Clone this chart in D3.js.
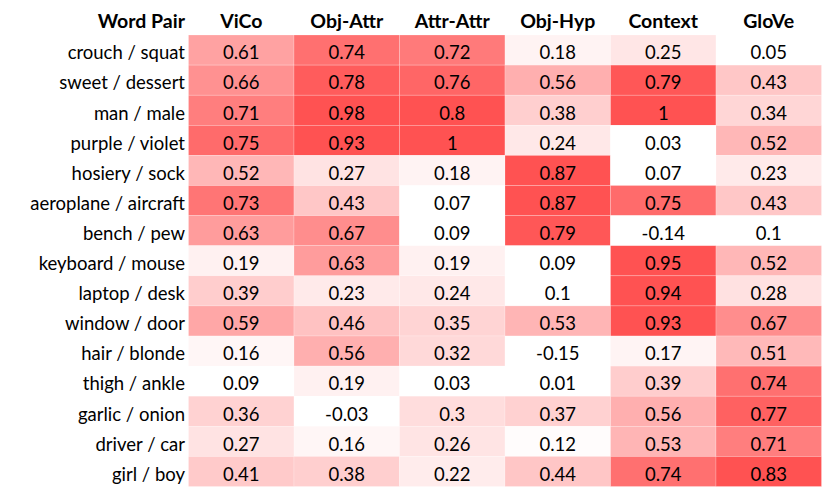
<!DOCTYPE html>
<html><head><meta charset="utf-8">
<script src="https://cdn.jsdelivr.net/npm/d3@7"></script>
<style>
html,body{margin:0;padding:0;background:#fff;}
svg{display:block;font-family:Lato,"Open Sans",sans-serif;}
</style></head>
<body>
<svg id="chart" width="831" height="495"></svg>
<script>
const pairs = ["crouch / squat","sweet / dessert","man / male","purple / violet","hosiery / sock","aeroplane / aircraft","bench / pew","keyboard / mouse","laptop / desk","window / door","hair / blonde","thigh / ankle","garlic / onion","driver / car","girl / boy"];
const columns = ["ViCo","Obj-Attr","Attr-Attr","Obj-Hyp","Context","GloVe"];
const vico     = [0.61,0.66,0.71,0.75,0.52,0.73,0.63,0.19,0.39,0.59,0.16,0.09,0.36,0.27,0.41];
const objAttr  = [0.74,0.78,0.98,0.93,0.27,0.43,0.67,0.63,0.23,0.46,0.56,0.19,-0.03,0.16,0.38];
const attrAttr = [0.72,0.76,0.8,1,0.18,0.07,0.09,0.19,0.24,0.35,0.32,0.03,0.3,0.26,0.22];
const objHyp   = [0.18,0.56,0.38,0.24,0.87,0.87,0.79,0.09,0.1,0.53,-0.15,0.01,0.37,0.12,0.44];
const context  = [0.25,0.79,1,0.03,0.07,0.75,-0.14,0.95,0.94,0.93,0.17,0.39,0.56,0.53,0.74];
const glove    = [0.05,0.43,0.34,0.52,0.23,0.43,0.1,0.52,0.28,0.67,0.51,0.74,0.77,0.71,0.83];
const seriesList = [vico,objAttr,attrAttr,objHyp,context,glove];

const cells = [];
pairs.forEach((p,i)=>columns.forEach((c,j)=>cells.push({pair:p,col:c,v:seriesList[j][i]})));

const svg = d3.select("#chart");
const x = d3.scaleBand().domain(columns).range([188.5,821.5]).padding(0);
const y = d3.scaleBand().domain(pairs).range([35,486.5]).padding(0);

const t = d3.scaleLinear()
  .domain([0.1,0.2,0.35,0.46,0.56,0.63,0.72,0.8])
  .range([0,0.09,0.25,0.35,0.46,0.57,0.77,1]).clamp(true);
const interp = d3.interpolateRgb("#ffffff","rgb(255,82,82)");
const color = v => interp(t(v));

svg.append("g").selectAll("rect").data(cells).join("rect")
  .attr("x",d=>x(d.col)).attr("y",d=>y(d.pair))
  .attr("width",x.bandwidth()).attr("height",y.bandwidth())
  .attr("fill",d=>color(d.v))
  .attr("stroke","rgba(255,255,255,0.35)").attr("stroke-width",0.6);

svg.append("g").selectAll("text").data(cells).join("text")
  .attr("x",d=>x(d.col)+x.bandwidth()/2)
  .attr("y",d=>y(d.pair)+24.3)
  .attr("text-anchor","middle")
  .attr("font-size",18.5).attr("fill","#000")
  .text(d=>String(d.v));

svg.append("g").selectAll("text").data(pairs).join("text")
  .attr("x",185).attr("y",d=>y(d)+24.3)
  .attr("text-anchor","end").attr("font-size",18.5).attr("fill","#000")
  .text(d=>d);

const header = svg.append("g").attr("font-weight","bold").attr("font-size",19.5);
header.append("text").attr("x",185).attr("y",28.3).attr("text-anchor","end").text("Word Pair");
header.selectAll("text.col").data(columns).join("text").attr("class","col")
  .attr("x",d=>x(d)+x.bandwidth()/2).attr("y",28.3)
  .attr("text-anchor","middle").text(d=>d);
</script>
</body></html>
